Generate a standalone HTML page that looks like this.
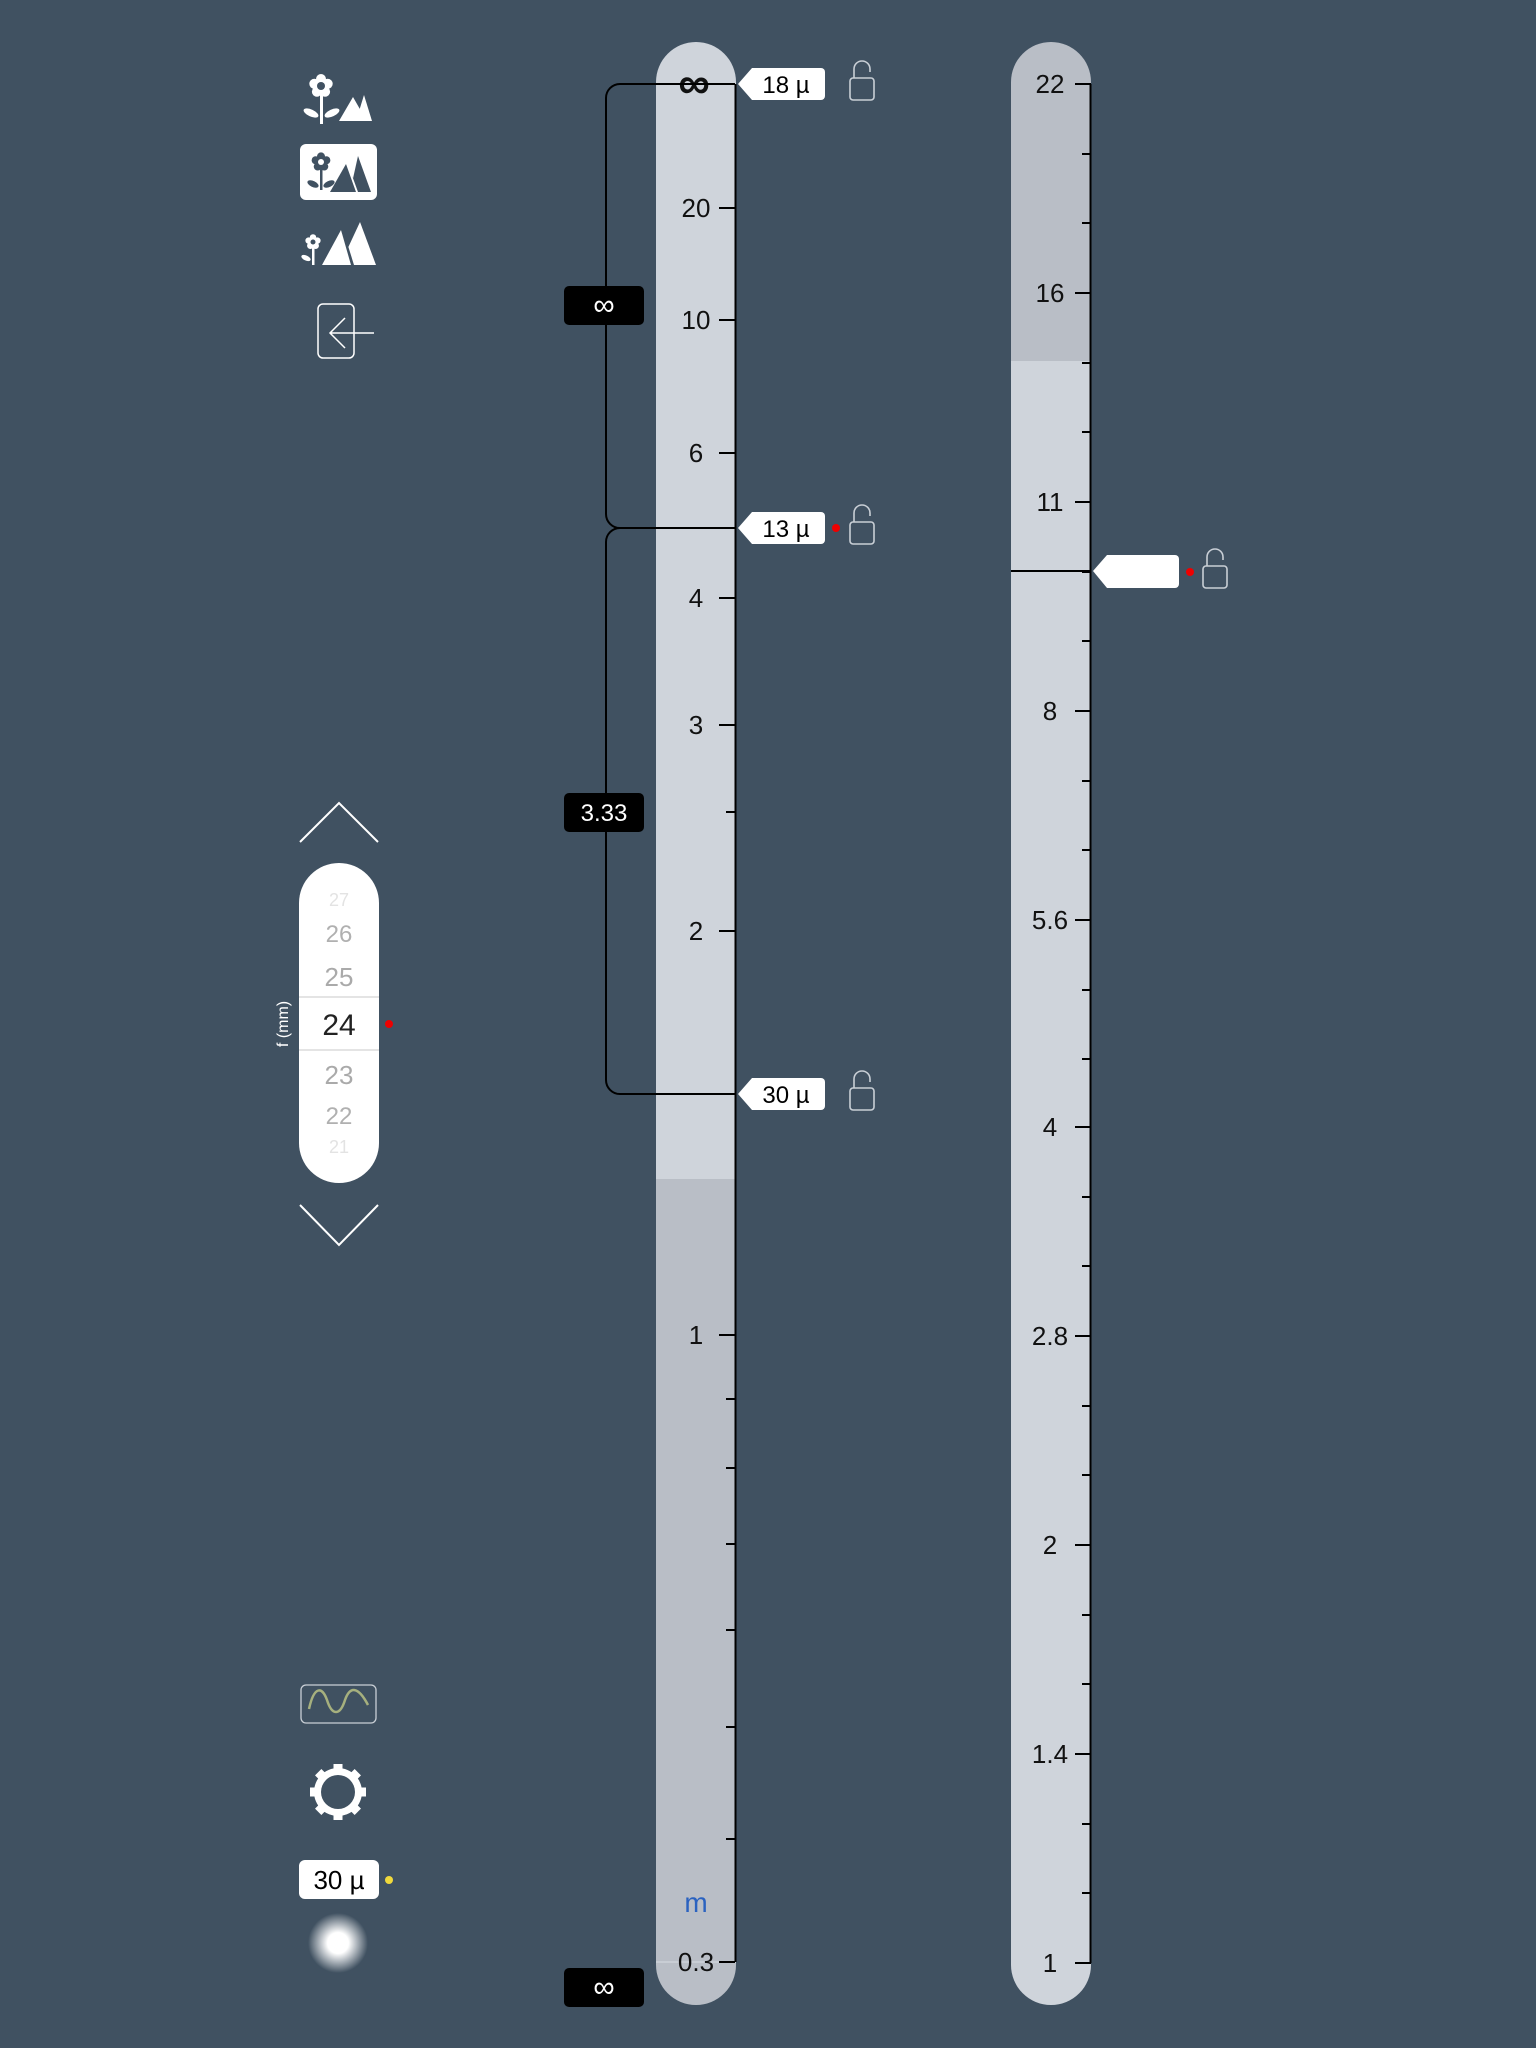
<!DOCTYPE html>
<html><head><meta charset="utf-8"><style>
html,body{margin:0;padding:0;background:#405161;}
svg{display:block;}
text{font-family:"Liberation Sans",sans-serif;}
</style></head><body>
<svg width="1536" height="2048" viewBox="0 0 1536 2048" xmlns="http://www.w3.org/2000/svg">
<defs>
<g id="flw">
<circle cx="0" cy="-7" r="5"/><circle cx="6.7" cy="-2.2" r="5"/><circle cx="4.1" cy="5.7" r="5"/><circle cx="-4.1" cy="5.7" r="5"/><circle cx="-6.7" cy="-2.2" r="5"/>
</g>
<radialGradient id="glow"><stop offset="0.35" stop-color="#fff"/><stop offset="1" stop-color="#fff" stop-opacity="0"/></radialGradient>
<g id="lock" fill="none" stroke="#c9cfd6" stroke-width="1.6">
<path d="M4 16 V7 a8 8 0 0 1 16 0 V10"/>
<rect x="0" y="16" width="24" height="22" rx="3"/>
</g>
</defs>
<rect width="1536" height="2048" fill="#405161"/>

<!-- icon 1 -->
<g fill="#fff">
<use href="#flw" transform="translate(321,86) scale(1)"/>
<circle cx="321" cy="86" r="4" fill="#405161"/>
<rect x="320" y="94" width="3" height="30"/>
<ellipse cx="311" cy="113" rx="8" ry="3.5" transform="rotate(25 311 113)"/>
<ellipse cx="332" cy="113" rx="8" ry="3.5" transform="rotate(-25 332 113)"/>
<polygon points="339,121 353,97 361,111 367,121"/>
<polygon points="356,121 364,95 372,121"/>
</g>
<!-- icon 2 -->
<rect x="300" y="144" width="77" height="56" rx="6" fill="#fff"/>
<g fill="#405161">
<use href="#flw" transform="translate(321,162) scale(0.8)"/>
<circle cx="321" cy="162" r="3" fill="#fff"/>
<rect x="320" y="168" width="2.5" height="22"/>
<ellipse cx="313" cy="184" rx="6" ry="3" transform="rotate(25 313 184)"/>
<ellipse cx="329" cy="184" rx="6" ry="3" transform="rotate(-25 329 184)"/>
<polygon points="330,192 346,164 360,192"/>
<polygon points="350,192 358,156 371,192 "/>
</g>
<polygon points="346,164 350,170 358,192 356,192" fill="#fff"/>
<!-- icon 3 -->
<g fill="#fff">
<use href="#flw" transform="translate(313,242) scale(0.65)"/>
<circle cx="313" cy="242" r="2.5" fill="#405161"/>
<rect x="312" y="247" width="2.5" height="18"/>
<ellipse cx="306" cy="258" rx="5" ry="2.5" transform="rotate(25 306 258)"/>
<polygon points="322,265 341,230 354,265"/>
<polygon points="340,265 360,222 376,265"/>
</g>
<polygon points="341,230 345,236 354,265 351,265" fill="#405161"/>
<!-- exit icon -->
<rect x="318" y="304" width="36" height="54" rx="5" fill="none" stroke="#fff" stroke-width="1.5"/>
<path d="M374 333 H330 M345 318 L330 333 L345 348" fill="none" stroke="#fff" stroke-width="1.5"/>

<!-- chevrons -->
<path d="M300 842 L339 803 L378 842" fill="none" stroke="#fff" stroke-width="2"/>
<path d="M300 1205 L339 1245 L378 1205" fill="none" stroke="#fff" stroke-width="2"/>
<!-- picker -->
<rect x="299" y="863" width="80" height="320" rx="40" fill="#fff"/>
<line x1="299" y1="997" x2="379" y2="997" stroke="#c8c8c8" stroke-width="1"/>
<line x1="299" y1="1050" x2="379" y2="1050" stroke="#c8c8c8" stroke-width="1"/>
<g text-anchor="middle" font-size="26">
<text x="339" y="906" fill="#e3e3e3" font-size="18">27</text>
<text x="339" y="942" fill="#b0b0b0" font-size="24">26</text>
<text x="339" y="986" fill="#aaa">25</text>
<text x="339" y="1035" fill="#222" font-size="30">24</text>
<text x="339" y="1084" fill="#aaa">23</text>
<text x="339" y="1124" fill="#b0b0b0" font-size="24">22</text>
<text x="339" y="1153" fill="#e3e3e3" font-size="18">21</text>
</g>
<circle cx="389" cy="1024" r="4" fill="#e00"/>
<text x="0" y="0" transform="translate(288,1024) rotate(-90)" text-anchor="middle" font-size="16" fill="#fff">f (mm)</text>

<!-- wave -->
<rect x="301" y="1685" width="75" height="38" rx="5" fill="none" stroke="#c9cfd6" stroke-width="1.3"/>
<path d="M309 1709 C314 1686 322 1686 327 1700 C332 1716 340 1716 345 1700 C350 1686 358 1686 368 1705" fill="none" stroke="#a6b07e" stroke-width="2.5"/>
<!-- gear -->
<g fill="#fff" transform="translate(338,1792)">
<rect x="-4.5" y="-28" width="9" height="56"/>
<rect x="-4.5" y="-28" width="9" height="56" transform="rotate(45)"/>
<rect x="-4.5" y="-28" width="9" height="56" transform="rotate(90)"/>
<rect x="-4.5" y="-28" width="9" height="56" transform="rotate(135)"/>
<circle r="24"/>
<circle r="17" fill="#405161"/>
</g>
<!-- 30 µ -->
<rect x="299" y="1860" width="80" height="39" rx="6" fill="#fff"/>
<text x="339" y="1889" text-anchor="middle" font-size="26" fill="#000">30 µ</text>
<circle cx="389" cy="1880" r="4" fill="#f0d93c"/>
<circle cx="338" cy="1943" r="30" fill="url(#glow)"/>

<!-- LEFT BAR -->
<path d="M656 82 a40 40 0 0 1 80 0 V1179 H656 Z" fill="#cfd4db"/>
<path d="M656 1179 H736 V1965 a40 40 0 0 1 -80 0 Z" fill="#b9bec6"/>
<line x1="656" y1="1962" x2="736" y2="1962" stroke="#d8dce2" stroke-width="1"/>
<line x1="735.5" y1="84" x2="735.5" y2="1962" stroke="#000" stroke-width="2"/>
<g stroke="#000" stroke-width="2">
<line x1="719" y1="208" x2="735" y2="208"/>
<line x1="719" y1="320" x2="735" y2="320"/>
<line x1="719" y1="453" x2="735" y2="453"/>
<line x1="719" y1="598" x2="735" y2="598"/>
<line x1="719" y1="725" x2="735" y2="725"/>
<line x1="726" y1="812" x2="735" y2="812"/>
<line x1="719" y1="931" x2="735" y2="931"/>
<line x1="719" y1="1335" x2="735" y2="1335"/>
<line x1="726" y1="1399" x2="735" y2="1399"/>
<line x1="726" y1="1468" x2="735" y2="1468"/>
<line x1="726" y1="1544" x2="735" y2="1544"/>
<line x1="726" y1="1630" x2="735" y2="1630"/>
<line x1="726" y1="1727" x2="735" y2="1727"/>
<line x1="726" y1="1839" x2="735" y2="1839"/>
<line x1="719" y1="1962" x2="735" y2="1962"/>
</g>
<g text-anchor="middle" font-size="26" fill="#111">
<text x="696" y="217">20</text>
<text x="696" y="329">10</text>
<text x="696" y="462">6</text>
<text x="696" y="607">4</text>
<text x="696" y="734">3</text>
<text x="696" y="940">2</text>
<text x="696" y="1344">1</text>
<text x="696" y="1971">0.3</text>
<text x="696" y="1912" fill="#2a62c0" font-size="28">m</text>
<text x="694" y="98" font-size="44" font-weight="bold">∞</text>
</g>
<!-- brackets -->
<path d="M735 84 H620 a14 14 0 0 0 -14 14 V514 a14 14 0 0 0 14 14 H735" fill="none" stroke="#000" stroke-width="2"/>
<path d="M735 528 H620 a14 14 0 0 0 -14 14 V1080 a14 14 0 0 0 14 14 H735" fill="none" stroke="#000" stroke-width="2"/>
<rect x="564" y="286" width="80" height="39" rx="5" fill="#000"/>
<text x="604" y="315" text-anchor="middle" font-size="30" fill="#fff">∞</text>
<rect x="564" y="793" width="80" height="39" rx="5" fill="#000"/>
<text x="604" y="821" text-anchor="middle" font-size="24" fill="#fff">3.33</text>
<rect x="564" y="1968" width="80" height="39" rx="5" fill="#000"/>
<text x="604" y="1997" text-anchor="middle" font-size="30" fill="#fff">∞</text>
<!-- tags -->
<g font-size="24" fill="#000">
<path d="M738 84 L752 68 H821 a4 4 0 0 1 4 4 V96 a4 4 0 0 1 -4 4 H752 Z" fill="#fff"/>
<text x="786" y="93" text-anchor="middle">18 µ</text>
<path d="M738 528 L752 512 H821 a4 4 0 0 1 4 4 V540 a4 4 0 0 1 -4 4 H752 Z" fill="#fff"/>
<text x="786" y="537" text-anchor="middle">13 µ</text>
<path d="M738 1094 L752 1078 H821 a4 4 0 0 1 4 4 V1106 a4 4 0 0 1 -4 4 H752 Z" fill="#fff"/>
<text x="786" y="1103" text-anchor="middle">30 µ</text>
</g>
<circle cx="836" cy="528" r="4" fill="#e00"/>
<use href="#lock" transform="translate(850,62)"/>
<use href="#lock" transform="translate(850,506)"/>
<use href="#lock" transform="translate(850,1072)"/>

<!-- RIGHT BAR -->
<path d="M1011 82 a40 40 0 0 1 80 0 V361 H1011 Z" fill="#b9bec6"/>
<path d="M1011 361 H1091 V1965 a40 40 0 0 1 -80 0 Z" fill="#cfd4db"/>
<line x1="1090.5" y1="84" x2="1090.5" y2="1963" stroke="#000" stroke-width="2"/>
<g stroke="#000" stroke-width="2">
<line x1="1075" y1="84" x2="1091" y2="84"/><line x1="1082" y1="154" x2="1091" y2="154"/><line x1="1082" y1="223" x2="1091" y2="223"/>
<line x1="1075" y1="293" x2="1091" y2="293"/><line x1="1082" y1="363" x2="1091" y2="363"/><line x1="1082" y1="432" x2="1091" y2="432"/>
<line x1="1075" y1="502" x2="1091" y2="502"/><line x1="1082" y1="572" x2="1091" y2="572"/><line x1="1082" y1="641" x2="1091" y2="641"/>
<line x1="1075" y1="711" x2="1091" y2="711"/><line x1="1082" y1="781" x2="1091" y2="781"/><line x1="1082" y1="850" x2="1091" y2="850"/>
<line x1="1075" y1="920" x2="1091" y2="920"/><line x1="1082" y1="990" x2="1091" y2="990"/><line x1="1082" y1="1059" x2="1091" y2="1059"/>
<line x1="1075" y1="1127" x2="1091" y2="1127"/><line x1="1082" y1="1197" x2="1091" y2="1197"/><line x1="1082" y1="1266" x2="1091" y2="1266"/>
<line x1="1075" y1="1336" x2="1091" y2="1336"/><line x1="1082" y1="1406" x2="1091" y2="1406"/><line x1="1082" y1="1475" x2="1091" y2="1475"/>
<line x1="1075" y1="1545" x2="1091" y2="1545"/><line x1="1082" y1="1615" x2="1091" y2="1615"/><line x1="1082" y1="1684" x2="1091" y2="1684"/>
<line x1="1075" y1="1754" x2="1091" y2="1754"/><line x1="1082" y1="1824" x2="1091" y2="1824"/><line x1="1082" y1="1893" x2="1091" y2="1893"/>
<line x1="1075" y1="1963" x2="1091" y2="1963"/>
<line x1="1011" y1="571" x2="1091" y2="571"/>
</g>
<g text-anchor="middle" font-size="26" fill="#111">
<text x="1050" y="93">22</text>
<text x="1050" y="302">16</text>
<text x="1050" y="511">11</text>
<text x="1050" y="720">8</text>
<text x="1050" y="929">5.6</text>
<text x="1050" y="1136">4</text>
<text x="1050" y="1345">2.8</text>
<text x="1050" y="1554">2</text>
<text x="1050" y="1763">1.4</text>
<text x="1050" y="1972">1</text>
</g>
<path d="M1093 571 L1107 555 H1175 a4 4 0 0 1 4 4 V584 a4 4 0 0 1 -4 4 H1107 Z" fill="#fff"/>
<circle cx="1190" cy="572" r="4" fill="#e00"/>
<use href="#lock" transform="translate(1203,550)"/>
</svg>
</body></html>
